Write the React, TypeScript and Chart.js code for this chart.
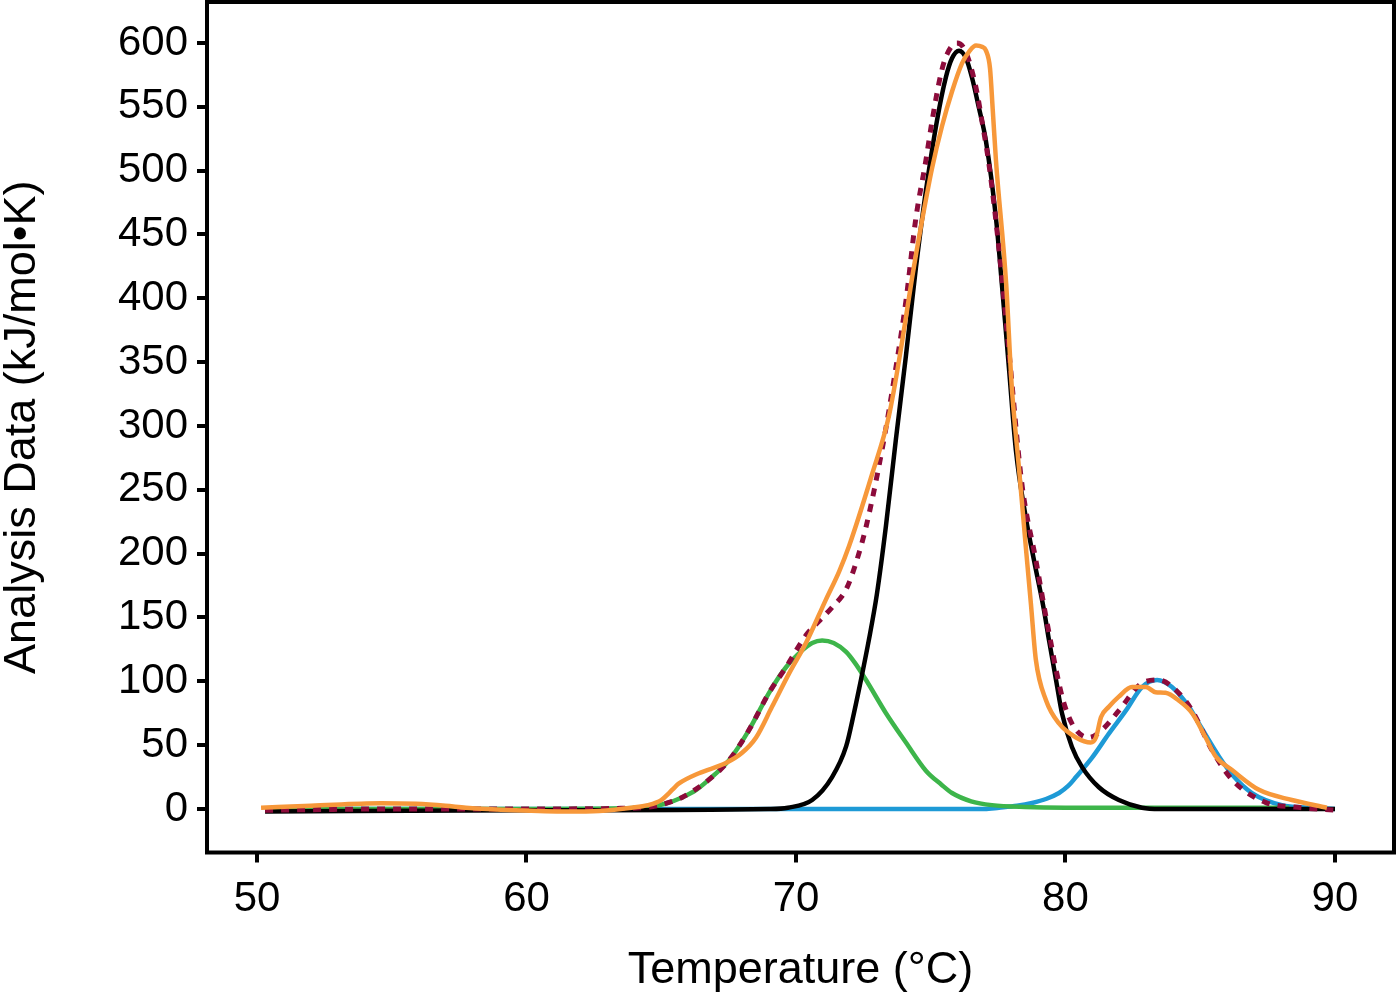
import { useEffect, useRef } from 'react';
import { Chart, registerables } from 'chart.js';

Chart.register(...registerables);

// axis ticks
const xTicks = [50, 60, 70, 80, 90];
const yTicks = [0, 50, 100, 150, 200, 250, 300, 350, 400, 450, 500, 550, 600];

// measured data (orange)
const measuredT = [50.15, 52, 54.6, 55.9, 57.0, 57.75, 59.6, 61.5, 62.7, 63.9, 64.5, 65.0, 65.29, 65.5, 65.66, 66.4, 67.4, 68.0, 68.52, 69.11, 69.74, 70.37, 71.11, 71.6, 71.97, 72.82, 73.45, 73.93, 74.3, 74.67, 75.05, 75.42, 75.79, 76.16, 76.45, 76.68, 76.9, 77.05, 77.2, 77.3, 77.42, 77.8, 78.0, 78.27, 78.55, 78.72, 78.9, 79.28, 79.76, 80.39, 80.94, 81.13, 81.32, 81.61, 81.98, 82.47, 82.98, 83.34, 83.71, 84.2, 84.7, 85.2, 85.58, 86.18, 87.18, 88.4, 89.7];
const measuredV = [1, 2.5, 4.5, 4, 2.5, 1, -1, -2, -1.5, 1, 3, 7, 12.5, 17, 20, 28, 36, 44, 56, 80, 106, 130, 164, 186, 206, 262, 308, 365, 415, 460, 502, 535, 562, 584, 594, 598, 597, 594, 580, 548, 508, 411, 333, 268, 200, 160, 117, 85, 67, 56, 52, 56, 72, 80, 88, 95.5, 95.5, 91.5, 91, 85, 75, 56, 41, 30.5, 15, 7, 1];

// fitted sum (dashed)
const fitT = [50.3, 55, 60, 63.5, 64.55, 65.2, 65.77, 66.77, 67.51, 68.26, 69.0, 69.63, 70.37, 70.85, 71.34, 71.86, 72.23, 72.6, 73.19, 73.71, 74.08, 74.45, 74.82, 75.05, 75.38, 75.6, 75.97, 76.2, 76.42, 76.68, 76.9, 77.16, 77.5, 77.9, 78.38, 78.9, 79.28, 79.46, 79.65, 79.94, 80.32, 80.87, 81.36, 81.98, 82.84, 83.47, 84.1, 84.7, 85.44, 86.18, 87.44, 88.5, 90.0];
const fitV = [-1, 0, 0, 0.5, 1.5, 4.5, 9, 23, 38, 62, 91, 111, 136, 147, 158, 172, 193, 221, 281, 346, 398, 463, 508, 539, 576, 591, 600, 597, 586, 565, 539, 505, 445, 359, 255, 195, 150, 130, 109, 83, 64, 56, 62, 77, 98.6, 101, 93, 77, 46, 23, 5, 1.5, -1];

// component peaks
const mainT = [50.3, 60, 69.0, 69.7, 70.6, 71.34, 71.86, 72.15, 72.41, 72.71, 73.0, 73.34, 73.71, 74.08, 74.45, 74.82, 75.23, 75.56, 75.79, 76.05, 76.31, 76.53, 76.79, 77.05, 77.42, 77.64, 77.9, 78.16, 78.53, 78.83, 79.2, 79.39, 79.65, 79.87, 80.24, 80.61, 81.24, 81.98, 82.84, 83.5, 90.0];
const mainV = [-2, -1, 0, 1, 7, 25, 49, 75, 101, 133, 168, 222, 290, 355, 424, 484, 539, 573, 588, 594, 588, 573, 549, 523, 463, 411, 346, 281, 228, 195, 156, 132, 101, 75, 48.5, 33, 17, 7, 1, 0, 0];

const lowT = [50.3, 60, 63.5, 64.55, 65.2, 65.77, 66.3, 66.77, 67.51, 68.26, 69.0, 69.63, 70.22, 70.6, 70.97, 71.4, 71.86, 72.2, 72.6, 73.34, 74.08, 74.82, 75.4, 75.79, 76.5, 77.27, 78.5, 80, 88.3];
const lowV = [0, 0, 0.5, 1.5, 4.5, 9, 15, 23, 38, 62, 91, 111, 124, 130, 132, 130, 123, 114, 101, 75, 52, 30, 19, 12.5, 6, 3, 1.5, 1, 1];

const highT = [50.3, 77.0, 77.53, 78.2, 78.76, 79.3, 79.76, 80.1, 80.39, 80.98, 81.61, 82.24, 82.84, 83.4, 83.95, 84.58, 84.95, 85.7, 86.18, 86.92, 88.03, 89.0, 90.0];
const highV = [0, 0, 1, 2.5, 4.7, 8, 12.5, 18, 25, 40, 59, 77, 95.5, 101, 95.5, 80, 67, 41, 27, 12.5, 3, 1, 0];

const pts = (t: number[], v: number[]) => t.map((x, i) => ({ x, y: v[i] }));

const FONT = '"Liberation Sans", Arial, sans-serif';

// рамка вокруг области графика
const framePlugin = {
  id: 'frame',
  afterDraw(chart: Chart) {
    const { ctx, chartArea: a } = chart;
    ctx.save();
    ctx.lineWidth = 4;
    ctx.strokeStyle = '#000';
    ctx.strokeRect(a.left, a.top, a.right - a.left, a.bottom - a.top);
    ctx.restore();
  },
};

export default function App() {
  const canvasRef = useRef<HTMLCanvasElement>(null);
  const chartRef = useRef<Chart | null>(null);

  useEffect(() => {
    document.body.style.margin = '0';
    if (!canvasRef.current) return;
    const ctx = canvasRef.current.getContext('2d');
    if (!ctx) return;

    const line = (data: { x: number; y: number }[], color: string, width = 4.5, dash: number[] = []) => ({
      data,
      borderColor: color,
      backgroundColor: color,
      borderWidth: width,
      borderDash: dash,
      pointRadius: 0,
      fill: false,
      cubicInterpolationMode: 'monotone' as const,
    });

    chartRef.current = new Chart(ctx, {
      type: 'line',
      data: {
        datasets: [
          line(pts(measuredT, measuredV), '#F7983A'),
          line(pts(fitT, fitV), '#8C0B3B', 5, [8, 8]),
          line(pts(mainT, mainV), '#000000'),
          line(pts(lowT, lowV), '#3DB54A'),
          line(pts(highT, highV), '#1E9AD6'),
        ],
      },
      options: {
        animation: false,
        responsive: true,
        maintainAspectRatio: false,
        layout: { padding: { left: 0, top: 2, right: 2, bottom: 0 } },
        plugins: { legend: { display: false }, tooltip: { enabled: false } },
        scales: {
          x: {
            type: 'linear',
            min: 48.145,
            max: 92.19,
            afterBuildTicks: (s: any) => { s.ticks = xTicks.map(value => ({ value })); },
            afterFit: (s: any) => { s.height = 144.5; s.paddingLeft = 0; s.paddingRight = 0; },
            border: { display: false },
            grid: { drawOnChartArea: false, drawTicks: true, tickLength: 10, lineWidth: 4, color: '#000' },
            ticks: { color: '#000', padding: 12, maxRotation: 0, font: { family: FONT, size: 42 } },
            title: {
              display: true,
              text: 'Temperature (°C)',
              color: '#000',
              padding: { top: 0, bottom: 4 },
              font: { family: FONT, size: 45, lineHeight: 1 },
            },
          },
          y: {
            type: 'linear',
            min: -34.1,
            max: 632.1,
            afterBuildTicks: (s: any) => { s.ticks = yTicks.map(value => ({ value })); },
            afterFit: (s: any) => { s.width = 207; s.paddingTop = 0; s.paddingBottom = 0; },
            border: { display: false },
            grid: { drawOnChartArea: false, drawTicks: true, tickLength: 10, lineWidth: 4, color: '#000' },
            ticks: { color: '#000', padding: 9, font: { family: FONT, size: 42 } },
            title: {
              display: true,
              text: 'Analysis Data (kJ/mol•K)',
              color: '#000',
              padding: { top: 0, bottom: 0 },
              font: { family: FONT, size: 45, lineHeight: 1 },
            },
          },
        },
      },
      plugins: [framePlugin],
    });

    return () => {
      if (chartRef.current) chartRef.current.destroy();
    };
  }, []);

  return (
    <div style={{ width: 1396, height: 997, position: 'relative', background: '#fff' }}>
      <canvas ref={canvasRef}></canvas>
    </div>
  );
}
